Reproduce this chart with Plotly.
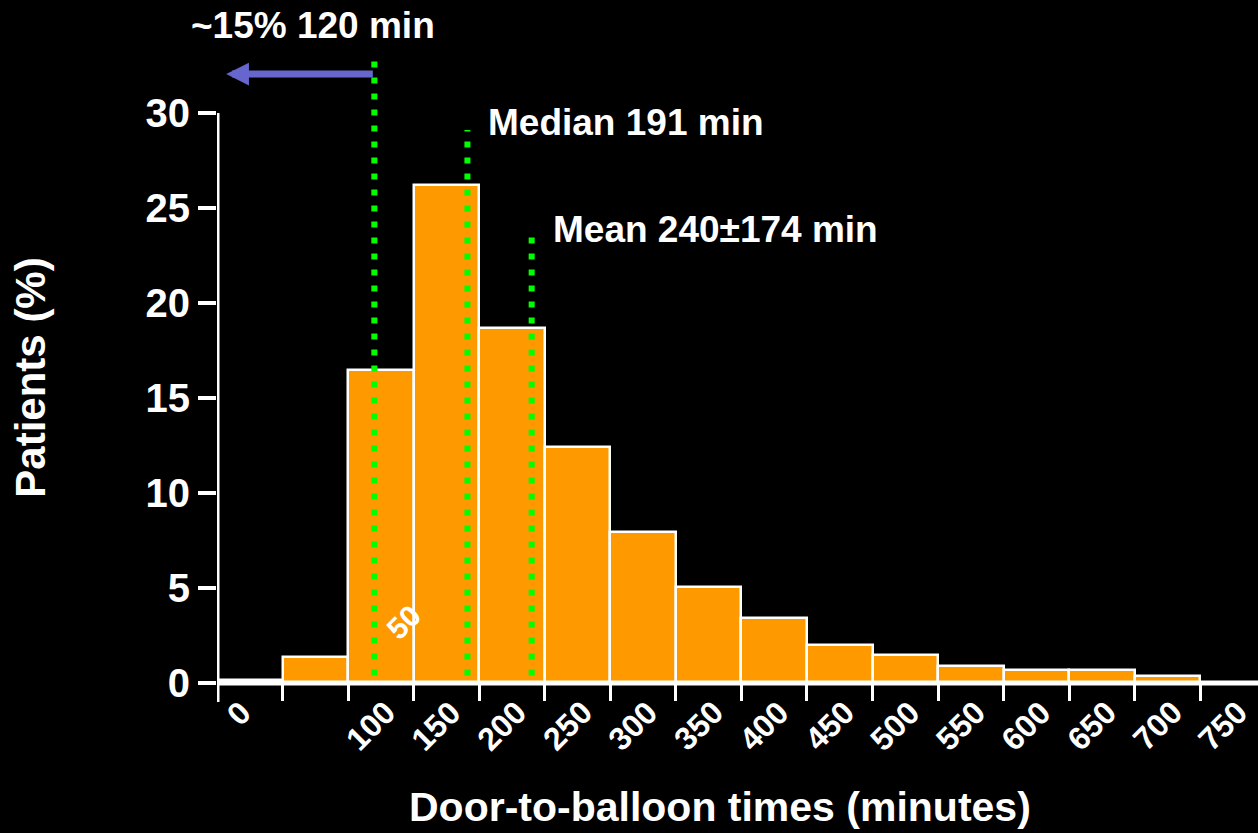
import plotly.graph_objects as go

# Door-to-balloon time histogram (50-minute bins)
bin_starts = [0, 50, 100, 150, 200, 250, 300, 350, 400, 450, 500, 550, 600, 650, 700]
bin_width = 50
patients_pct = [0.15, 1.35, 16.5, 26.2, 18.7, 12.4, 7.95, 5.05, 3.4, 2.0, 1.45, 0.9, 0.7, 0.7, 0.35]

x_tick_marks = [50, 100, 150, 200, 250, 300, 350, 400, 450, 500, 550, 600, 650, 700, 750]
x_tick_labels = [0, 100, 150, 200, 250, 300, 350, 400, 450, 500, 550, 600, 650, 700, 750]
y_ticks = [0, 5, 10, 15, 20, 25, 30]

threshold_min = 120
median_min = 191
mean_min = 240
mean_sd = 174

FONT = "Liberation Sans"
WHITE = "#ffffff"
GREEN = "#00ff00"
ORANGE = "#ff9900"

Y_MIN, Y_MAX = -1.0, 34.0
X_MAX = 794


def y_paper(v):
    """Convert a y data value to paper coordinates (for text outside the axis range)."""
    return (v - Y_MIN) / (Y_MAX - Y_MIN)


fig = go.Figure()
fig.add_trace(go.Bar(
    x=[s + bin_width / 2 for s in bin_starts],
    y=patients_pct,
    width=bin_width,
    marker=dict(color=ORANGE, line=dict(color=WHITE, width=2.5)),
    hoverinfo="skip",
))

shapes = [
    # y axis line (runs a little below zero, like a tick at 0 min)
    dict(type="line", xref="x", yref="y", x0=0, x1=0, y0=Y_MIN, y1=30,
         line=dict(color=WHITE, width=5), layer="above"),
    # x axis baseline
    dict(type="line", xref="paper", yref="y", x0=0, x1=1, y0=0, y1=0,
         line=dict(color=WHITE, width=5), layer="above"),
]

# dotted reference lines: 120 min threshold, median, mean
for xv, top in [(threshold_min, 32.9), (median_min, 29.1), (mean_min, 23.6)]:
    shapes.append(dict(type="line", xref="x", yref="y", x0=xv, x1=xv, y0=0.4, y1=top,
                       line=dict(color=GREEN, width=6, dash="6px,10px"), layer="above"))

annotations = []
bold = dict(family=FONT, color=WHITE, weight="bold")

# rotated x tick labels
for v in x_tick_labels:
    annotations.append(dict(
        x=v + 17, y=-0.45, xref="x", yref="y", text=str(v), showarrow=False,
        textangle=-45, xanchor="center", yanchor="top",
        font=dict(size=32, **bold),
    ))
# the "50" label sits inside the plot
annotations.append(dict(x=142, y=3.2, xref="x", yref="y", text="50", showarrow=False,
                        textangle=-45, xanchor="center", yanchor="middle",
                        font=dict(size=30, **bold)))

# arrow pointing to shorter times
annotations.append(dict(
    x=7, y=32.05, ax=threshold_min, ay=32.05, xref="x", yref="y", axref="x", ayref="y",
    text="", showarrow=True, arrowhead=2, arrowsize=0.65, arrowwidth=7, arrowcolor="#6666cc",
))
annotations.append(dict(x=73, y=y_paper(34.6), xref="x", yref="paper",
                        text=f"~15% {threshold_min} min",
                        showarrow=False, xanchor="center", yanchor="middle",
                        font=dict(size=37, **bold)))
annotations.append(dict(x=205, y=29.5, xref="x", yref="y", text=f"Median {median_min} min",
                        showarrow=False, xanchor="left", yanchor="middle",
                        font=dict(size=37, **bold)))
annotations.append(dict(x=255, y=23.85, xref="x", yref="y",
                        text=f"Mean {mean_min}\u00b1{mean_sd} min",
                        showarrow=False, xanchor="left", yanchor="middle",
                        font=dict(size=37, **bold)))

# axis titles
annotations.append(dict(x=384, y=y_paper(-6.55), xref="x", yref="paper",
                        text="Door-to-balloon times (minutes)",
                        showarrow=False, xanchor="center", yanchor="middle",
                        font=dict(size=41, **bold)))
annotations.append(dict(x=-0.18, y=16.05, xref="paper", yref="y", text="Patients (%)",
                        showarrow=False, textangle=-90, xanchor="center", yanchor="middle",
                        font=dict(size=42, **bold)))

fig.update_layout(
    width=1258, height=833,
    margin=dict(l=217, r=0, t=37, b=131),
    paper_bgcolor="#000000", plot_bgcolor="#000000",
    showlegend=False, bargap=0,
    shapes=shapes, annotations=annotations,
    xaxis=dict(
        range=[0, X_MAX], showgrid=False, zeroline=False, showline=False,
        tickvals=x_tick_marks, ticktext=["" for _ in x_tick_marks],
        ticks="outside", ticklen=17, tickwidth=2.5, tickcolor=WHITE,
        anchor="free", position=(0 - Y_MIN) / (Y_MAX - Y_MIN),
    ),
    yaxis=dict(
        range=[Y_MIN, Y_MAX], showgrid=False, zeroline=False, showline=False,
        tickvals=y_ticks, ticks="outside", ticklen=18, tickwidth=4, tickcolor=WHITE,
        tickfont=dict(size=40, **bold),
    ),
)

fig.write_html("out.html")
